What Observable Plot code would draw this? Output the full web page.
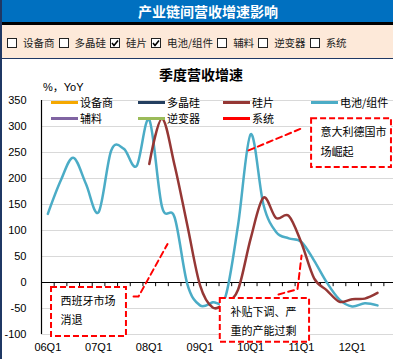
<!DOCTYPE html>
<html><head><meta charset="utf-8">
<script src="https://cdn.jsdelivr.net/npm/d3@7"></script>
<script src="https://cdn.jsdelivr.net/npm/@observablehq/plot@0.6"></script>
<style>
html,body{margin:0;padding:0;background:#fff;}
#wrap{position:relative;width:393px;height:359px;overflow:hidden;background:#fff;font-family:"Noto Sans CJK SC","Liberation Sans",sans-serif;}
.abs{position:absolute;}
#hdr{left:0;top:0;width:393px;height:22px;background:#0070C0;color:#fff;font-weight:bold;font-size:14px;line-height:22px;text-align:center;padding-left:23px;box-sizing:border-box;}
#blk{left:0;top:22px;width:393px;height:3px;background:#000;}
#peach{left:0;top:25px;width:393px;height:33px;background:#FDE9D9;}
#navy{left:0;top:58px;width:393px;height:1px;background:#1F3864;}
#lb{left:0;top:0;width:2px;height:359px;background:#1F3864;z-index:5;}
#cbrow{left:7px;top:36px;height:14px;display:flex;align-items:center;font-size:10.5px;color:#222;white-space:nowrap;}
.cb{width:10px;height:10px;box-sizing:border-box;border:1px solid #222;background:#fff;margin-right:6px;position:relative;flex:none;}
.cb svg{position:absolute;left:0;top:0;}
.cbl{margin-right:4px;line-height:14px;}
#title{left:0;top:64px;width:393px;text-align:center;padding-left:9px;box-sizing:border-box;font-weight:bold;font-size:14px;line-height:20px;color:#000;}
#ylab{left:43px;top:80px;font-size:11px;line-height:14px;color:#000;font-family:"Liberation Sans","Noto Sans CJK SC",sans-serif;}
#plot{left:0;top:80px;}
.lg{position:absolute;height:14px;display:flex;align-items:center;font-size:11px;color:#000;z-index:3;white-space:nowrap;}
.lgl{width:27px;height:3px;margin-right:2px;}
</style></head>
<body>
<div id="wrap">
  <div id="hdr" class="abs">产业链间营收增速影响</div>
  <div id="blk" class="abs"></div>
  <div id="peach" class="abs"></div>
  <div id="navy" class="abs"></div>
  <div id="cbrow" class="abs"></div>
  <div id="title" class="abs">季度营收增速</div>
  <div id="plot" class="abs"></div>
  <div id="ylab" class="abs">%，YoY</div>
  <div id="legend"></div>
  <div id="lb" class="abs"></div>
</div>
<script>
const quarters = ["06Q1","06Q2","06Q3","06Q4","07Q1","07Q2","07Q3","07Q4","08Q1","08Q2","08Q3","08Q4","09Q1","09Q2","09Q3","09Q4","10Q1","10Q2","10Q3","10Q4","11Q1","11Q2","11Q3","11Q4","12Q1","12Q2","12Q3","12Q4"];
const xTickLabels = ["06Q1","07Q1","08Q1","09Q1","10Q1","11Q1","12Q1"];
const yTicks = [-100,-50,0,50,100,150,200,250,300,350];
const seriesNames = ["设备商","多晶硅","硅片","电池/组件","辅料","逆变器","系统"];
const seriesColors = ["#F5A800","#243F60","#953735","#4BACC6","#8064A2","#9BBB59","#FF0000"];
const seriesChecked = [false,false,true,true,false,false,false];

// 硅片 (wafer), 08Q1 .. 12Q3
const waferQuarters = quarters.slice(8, 27);
const waferValues = [228,315,225,110,-5,-48,-39,-14,85,163,124,128,76,8,-15,-37,-32,-31,-20];
// 电池/组件 (cell/module), 06Q1 .. 12Q3
const cellQuarters = quarters.slice(0, 27);
const cellValues = [132,195,240,190,135,254,257,224,313,146,125,-3,-44,-38,-28,110,285,150,97,85,78,42,0,-33,-46,-40,-44];

// callout annotations (quarter index, value)
const calloutBoxes = [
  {x1:20.8, x2:27.1, y1:221, y2:315},
  {x1:0.29, x2:6.2, y1:-104, y2:-9.6},
  {x1:13.6, x2:20.64, y1:-115, y2:-31}
];
const calloutLines = [
  {x:21.5, y:288, t:"意大利德国市"},
  {x:21.5, y:251, t:"场崛起"},
  {x:1.0, y:-36.5, t:"西班牙市场"},
  {x:1.0, y:-73, t:"消退"},
  {x:14.4, y:-57, t:"补贴下调、严"},
  {x:14.4, y:-94, t:"重的产能过剩"}
];
const leaderPoints = [
  {id:0, x:15.83, y:254},{id:0, x:20.17, y:298},
  {id:1, x:6.76, y:-27},{id:1, x:7.15, y:-27},{id:1, x:9.44, y:74},
  {id:2, x:18.19, y:-23},{id:2, x:19.69, y:-13},{id:2, x:20.01, y:52}
];

// checkbox row
const cbrow = document.getElementById("cbrow");
seriesNames.forEach((n, k) => {
  const b = document.createElement("span");
  b.className = "cb";
  if (seriesChecked[k]) b.innerHTML = '<svg width="8" height="8" viewBox="0 0 8 8"><polyline points="1,4 3,6.5 7,1.5" fill="none" stroke="#000" stroke-width="1.6"/></svg>';
  cbrow.appendChild(b);
  const l = document.createElement("span");
  l.className = "cbl";
  l.textContent = n;
  cbrow.appendChild(l);
});

// legend
const lgCols = [51, 138, 223, 311], lgRows = [95, 111];
const legend = document.getElementById("legend");
seriesNames.forEach((n, k) => {
  const d = document.createElement("div");
  d.className = "lg";
  d.style.left = lgCols[k % 4] + "px";
  d.style.top = lgRows[Math.floor(k / 4)] + "px";
  d.innerHTML = `<span class="lgl" style="background:${seriesColors[k]}"></span><span>${n}</span>`;
  legend.appendChild(d);
});

const qi = q => quarters.indexOf(q);
const wafer = waferQuarters.map((q, k) => ({i: qi(q), v: waferValues[k]}));
const cell = cellQuarters.map((q, k) => ({i: qi(q), v: cellValues[k]}));
const band = 12.68;

const chart = Plot.plot({
  width: 393, height: 279,
  marginTop: 20, marginBottom: 25, marginLeft: 41, marginRight: 0,
  style: {fontFamily: '"Liberation Sans","Noto Sans CJK SC",sans-serif', fontSize: "11px", background: "transparent", color: "#000"},
  x: {type: "linear", domain: [-0.5, quarters.length - 0.5], range: [41, 41 + quarters.length * band],
      ticks: xTickLabels.map(qi), tickFormat: i => quarters[i], tickSize: 0, tickPadding: 9, label: null},
  y: {domain: [-100, 350], ticks: yTicks, tickFormat: d => String(d), tickSize: 0, tickPadding: 15, label: null},
  marks: [
    Plot.ruleY(yTicks.filter(t => t !== 0), {stroke: "#D9D9D9", strokeWidth: 1}),
    Plot.ruleX([-0.5], {stroke: "#000", strokeWidth: 1.2}),
    Plot.ruleY([0], {stroke: "#000", strokeWidth: 1.2}),
    Plot.ruleX(d3.range(0.5, quarters.length), {y1: 0, y2: -8, stroke: "#000", strokeWidth: 1}),
    Plot.line(cell, {x: "i", y: "v", stroke: seriesColors[3], strokeWidth: 2.5, curve: "cardinal"}),
    Plot.line(wafer, {x: "i", y: "v", stroke: seriesColors[2], strokeWidth: 2.5, curve: "cardinal"}),
    Plot.rect(calloutBoxes, {x1: "x1", x2: "x2", y1: "y1", y2: "y2", fill: "white", stroke: "#FF0000", strokeWidth: 2, strokeDasharray: "6,3"}),
    Plot.text(calloutLines, {x: "x", y: "y", text: "t", textAnchor: "start", fontSize: 11, fill: "#000", fontFamily: '"Noto Sans CJK SC",sans-serif'}),
    Plot.line(leaderPoints, {x: "x", y: "y", z: "id", stroke: "#FF0000", strokeWidth: 2, strokeDasharray: "6,4"})
  ]
});
document.getElementById("plot").appendChild(chart);
</script>
</body></html>
